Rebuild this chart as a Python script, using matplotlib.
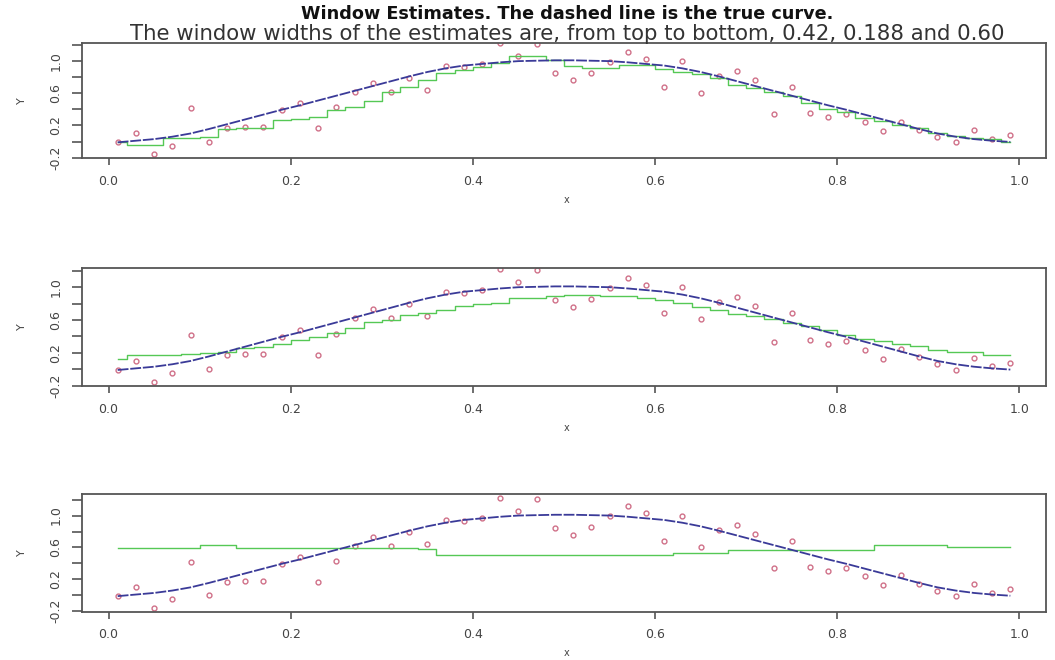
import numpy as np
import matplotlib
matplotlib.use("Agg")
import matplotlib.pyplot as plt

# ---------------------------------------------------------
# Data (x = 0.01, 0.03, ..., 0.99)
# ---------------------------------------------------------
x = np.arange(0.01, 1.0, 0.02)

y_obs = [-0.01, 0.10, -0.155, -0.05, 0.42, 0.0, 0.17, 0.185, 0.18, 0.39,
         0.475, 0.17, 0.43, 0.62, 0.73, 0.62, 0.79, 0.645, 0.94, 0.93,
         0.97, 1.22, 1.06, 1.21, 0.85, 0.76, 0.857, 0.995, 1.115, 1.03,
         0.68, 1.0, 0.607, 0.815, 0.878, 0.77, 0.337, 0.68, 0.358, 0.31,
         0.345, 0.24, 0.13, 0.249, 0.148, 0.058, -0.01, 0.14, 0.035, 0.078]

true_curve = [-0.01, 0.01, 0.03, 0.06, 0.10, 0.155, 0.215, 0.275, 0.335, 0.395,
              0.45, 0.51, 0.57, 0.63, 0.69, 0.75, 0.81, 0.865, 0.91, 0.945,
              0.965, 0.985, 1.0, 1.005, 1.01, 1.01, 1.005, 1.0, 0.985, 0.965,
              0.945, 0.91, 0.865, 0.81, 0.75, 0.69, 0.63, 0.57, 0.51, 0.45,
              0.395, 0.335, 0.275, 0.215, 0.155, 0.10, 0.06, 0.03, 0.01, -0.005]

est_042 = [0.0, -0.045, -0.045, 0.05, 0.05, 0.06, 0.155, 0.165, 0.165, 0.27,
           0.28, 0.31, 0.39, 0.435, 0.5, 0.62, 0.68, 0.77, 0.85, 0.895,
           0.93, 0.98, 1.06, 1.06, 1.01, 0.94, 0.91, 0.91, 0.95, 0.95,
           0.9, 0.87, 0.84, 0.79, 0.70, 0.66, 0.62, 0.56, 0.48, 0.41,
           0.37, 0.29, 0.25, 0.21, 0.165, 0.105, 0.065, 0.045, 0.03, 0.0]

est_188 = [0.13, 0.17, 0.17, 0.17, 0.18, 0.2, 0.21, 0.26, 0.27, 0.31,
           0.35, 0.39, 0.44, 0.5, 0.57, 0.6, 0.665, 0.68, 0.725, 0.77,
           0.8, 0.81, 0.865, 0.87, 0.89, 0.9, 0.907, 0.895, 0.887, 0.867,
           0.846, 0.806, 0.754, 0.725, 0.673, 0.644, 0.616, 0.564, 0.523, 0.483,
           0.422, 0.374, 0.341, 0.309, 0.28, 0.24, 0.212, 0.212, 0.17, 0.17]

est_060 = [0.595, 0.595, 0.595, 0.595, 0.595, 0.625, 0.625, 0.59, 0.59, 0.59,
           0.59, 0.59, 0.59, 0.59, 0.59, 0.59, 0.59, 0.585, 0.50, 0.50,
           0.50, 0.50, 0.50, 0.50, 0.50, 0.50, 0.50, 0.50, 0.50, 0.50,
           0.50, 0.53, 0.53, 0.53, 0.574, 0.574, 0.574, 0.574, 0.574, 0.574,
           0.574, 0.574, 0.628, 0.628, 0.628, 0.628, 0.603, 0.603, 0.603, 0.603]

estimates = [est_042, est_188, est_060]

x_ticks = [0.0, 0.2, 0.4, 0.6, 0.8, 1.0]
x_tick_labels = ["0.0", "0.2", "0.4", "0.6", "0.8", "1.0"]
y_ticks = [-0.2, 0.0, 0.2, 0.4, 0.6, 0.8, 1.0, 1.2]
y_tick_labels = ["-0.2", "", "0.2", "", "0.6", "", "1.0", ""]

# ---------------------------------------------------------
# Layout (figure fractions) and styles
# ---------------------------------------------------------
panel_boxes = [
    [0.0777, 0.7606, 0.9138, 0.1742],
    [0.0777, 0.4152, 0.9138, 0.1788],
    [0.0777, 0.0732, 0.9138, 0.1783],
]
panel_ylims = [(-0.205, 1.225), (-0.205, 1.235), (-0.205, 1.27)]

frame_col = "#555555"
text_col = "#444444"
green = "#55c855"
blue = "#3a3a98"
pink = "#d07088"

fig = plt.figure(figsize=(10.55, 6.6), dpi=100)

for box, ylim, est in zip(panel_boxes, panel_ylims, estimates):
    ax = fig.add_axes(box)
    ax.plot(x, y_obs, linestyle="none", marker="o", markersize=3.5,
            markerfacecolor="none", markeredgecolor=pink, markeredgewidth=1)
    ax.step(x, est, where="mid", color=green, lw=1.0)
    ax.plot(x, true_curve, color=blue, lw=1.3, linestyle=(0, (6, 1)))

    ax.set_xlim(-0.0292, 1.0292)
    ax.set_ylim(*ylim)

    ax.set_xticks(x_ticks)
    ax.set_xticklabels(x_tick_labels, fontsize=9, color=text_col)
    ax.set_yticks(y_ticks)
    ax.set_yticklabels(y_tick_labels, fontsize=9, color=text_col,
                       rotation=90, va="center")
    ax.tick_params(axis="x", direction="out", length=5, width=1.2,
                   color=frame_col, pad=7)
    ax.tick_params(axis="y", direction="out", length=7, width=1.2,
                   color=frame_col, pad=7)
    for sp in ax.spines.values():
        sp.set_color(frame_col)
        sp.set_linewidth(1.3)

    ax.annotate("x", xy=(0.5, 0), xycoords="axes fraction",
                xytext=(2, -30), textcoords="offset points",
                ha="center", va="center", fontsize=7, color=text_col)
    ax.annotate("Y", xy=(0, 0.5), xycoords="axes fraction",
                xytext=(-43, 0), textcoords="offset points",
                ha="center", va="center", fontsize=8, color=text_col,
                rotation=90)

fig.text(0.538, 1 - 14 / 660, "Window Estimates. The dashed line is the true curve.",
         ha="center", va="center", fontsize=12.7, fontweight="bold", color="#111111")
fig.text(0.538, 1 - 34 / 660,
         "The window widths of the estimates are, from top to bottom, 0.42, 0.188 and 0.60",
         ha="center", va="center", fontsize=15.3, color="#333333")

fig.savefig("out.png", dpi=100)
